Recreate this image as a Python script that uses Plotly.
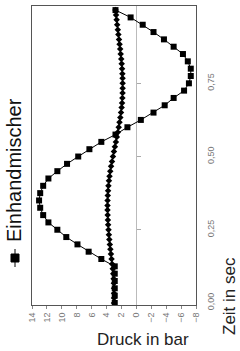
import plotly.graph_objects as go

# Einhandmischer (squares)
zeit_sq = [0.0, 0.025, 0.05, 0.075, 0.1, 0.125, 0.15, 0.175, 0.2, 0.225,
           0.25, 0.275, 0.3, 0.325, 0.35, 0.375, 0.4, 0.425, 0.45, 0.475,
           0.5, 0.525, 0.55, 0.575, 0.6, 0.625, 0.65, 0.675, 0.7, 0.725,
           0.75, 0.775, 0.8, 0.825, 0.85, 0.875, 0.9, 0.925, 0.95, 0.975, 1.0]
druck_sq = [2.9, 2.9, 2.9, 2.9, 2.9, 2.9, 4.7, 6.4, 7.9, 9.4,
            10.6, 11.8, 12.5, 12.9, 13.05, 12.9, 12.5, 11.8, 10.6, 9.3,
            7.8, 6.3, 4.7, 2.8, 1.2, -0.6, -2.3, -3.8, -5.0, -6.4,
            -7.05, -7.3, -7.3, -6.9, -6.25, -5.0, -3.7, -2.3, -0.85, 0.77, 2.8]

# second series (small diamonds)
zeit_di = [0.0, 0.017, 0.033, 0.05, 0.067, 0.083, 0.1, 0.117, 0.133, 0.15,
           0.167, 0.183, 0.2, 0.217, 0.233, 0.25, 0.267, 0.283, 0.3, 0.317,
           0.333, 0.35, 0.367, 0.383, 0.4, 0.417, 0.433, 0.45, 0.467, 0.483,
           0.5, 0.517, 0.533, 0.55, 0.567, 0.583, 0.6, 0.617, 0.633, 0.65,
           0.667, 0.683, 0.7, 0.717, 0.733, 0.75, 0.767, 0.783, 0.8, 0.817,
           0.833, 0.85, 0.867, 0.883, 0.9, 0.917, 0.933, 0.95, 0.967, 0.983, 1.0]
druck_di = [3.0, 3.0, 3.0, 3.0, 3.02, 3.05, 3.1, 3.17, 3.25, 3.33,
            3.41, 3.49, 3.56, 3.63, 3.69, 3.74, 3.79, 3.82, 3.85, 3.87,
            3.87, 3.86, 3.84, 3.8, 3.75, 3.68, 3.6, 3.5, 3.39, 3.27,
            3.14, 3.01, 2.88, 2.75, 2.62, 2.49, 2.37, 2.26, 2.15, 2.06,
            1.98, 1.92, 1.88, 1.85, 1.84, 1.84, 1.85, 1.88, 1.92, 1.97,
            2.03, 2.1, 2.17, 2.25, 2.33, 2.41, 2.49, 2.57, 2.65, 2.72, 2.8]

druck_ticks = [14, 12, 10, 8, 6, 4, 2, 0, -2, -4, -6, -8]
zeit_ticks = [0.0, 0.25, 0.5, 0.75, 1.0]
zeit_inner_ticks = [0.25, 0.5, 0.75]

FONT = "Liberation Sans, Arial, sans-serif"

# plot area in pixels (for placing annotations)
L, R, T, B = 32, 196, 6, 305
def xp(px):
    return (px - L) / (R - L)
def yp(py):
    return (B - py) / (B - T)

fig = go.Figure()
fig.add_trace(go.Scatter(
    x=druck_di, y=zeit_di, mode="lines+markers",
    line=dict(color="black", width=1),
    marker=dict(symbol="diamond", size=5, color="black"),
    showlegend=False, hoverinfo="skip"))
fig.add_trace(go.Scatter(
    x=druck_sq, y=zeit_sq, mode="lines+markers", name="Einhandmischer",
    line=dict(color="black", width=1),
    marker=dict(symbol="square", size=6, color="black"),
    showlegend=False))
fig.add_trace(go.Scatter(x=[], y=[], yaxis="y2", showlegend=False))

yr = [-0.007, 1.014]
fig.update_layout(
    width=240, height=351, autosize=False,
    margin=dict(l=L, r=240 - R, t=T, b=351 - B, pad=0),
    paper_bgcolor="white", plot_bgcolor="white",
    separators=",.",
    font=dict(family=FONT, color="#222"),
    xaxis=dict(range=[14, -8], tickvals=druck_ticks, ticks="outside",
               ticklen=3, tickcolor="#888", tickangle=-90,
               tickfont=dict(size=9, color="#777"),
               showline=True, mirror=True, linecolor="#555", linewidth=1,
               showgrid=False, zeroline=True, zerolinecolor="#bbb",
               zerolinewidth=1),
    yaxis=dict(range=yr, side="right", tickvals=zeit_ticks, tickformat=".2f",
               tickangle=-90, tickfont=dict(size=9, color="#777"), ticks="",
               ticklabelstandoff=6,
               showline=True, mirror=True, linecolor="#555", linewidth=1,
               showgrid=False, zeroline=False),
    yaxis2=dict(range=yr, overlaying="y", anchor="free", position=14 / 22,
                side="right", tickvals=zeit_inner_ticks, ticks="outside",
                ticklen=4, tickcolor="#aaa", showticklabels=False,
                showline=False, showgrid=False, zeroline=False),
    annotations=[
        dict(text="Einhandmischer", x=xp(14), y=yp(170), xref="paper",
             yref="paper", textangle=-90, showarrow=False,
             xanchor="center", yanchor="middle",
             font=dict(size=20, color="#111", family=FONT)),
        dict(text="Zeit in sec", x=xp(229), y=yp(296), xref="paper",
             yref="paper", textangle=-90, showarrow=False,
             xanchor="center", yanchor="middle",
             font=dict(size=17, color="#222", family=FONT)),
        dict(text="Druck in bar", x=xp(143), y=yp(339), xref="paper",
             yref="paper", showarrow=False,
             xanchor="center", yanchor="middle",
             font=dict(size=17, color="#222", family=FONT)),
    ],
    shapes=[
        dict(type="line", xref="paper", yref="paper",
             x0=xp(15), x1=xp(15), y0=yp(249), y1=yp(267),
             line=dict(color="black", width=1)),
        dict(type="rect", xref="paper", yref="paper",
             x0=xp(11), x1=xp(19), y0=yp(254), y1=yp(262),
             fillcolor="black", line=dict(color="black", width=1)),
    ],
)

fig.write_html("out.html", config={"displayModeBar": False})

# remove the browser's default page margin so the figure sits at (0, 0)
with open("out.html", "r", encoding="utf-8") as f:
    html = f.read()
html = html.replace("<head>", "<head><style>html,body{margin:0;padding:0;overflow:hidden;}</style>", 1)
with open("out.html", "w", encoding="utf-8") as f:
    f.write(html)
